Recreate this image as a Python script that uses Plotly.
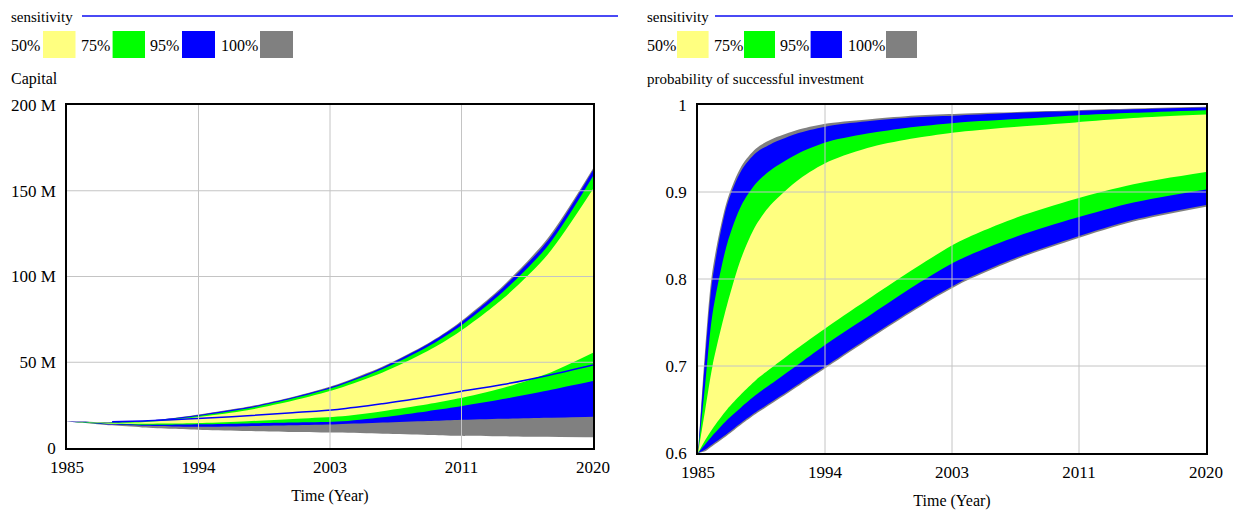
import plotly.graph_objects as go

W, H = 1233, 510

# ---- Capital (millions) sensitivity envelopes ----
cap_years = [1985, 1986, 1987, 1988, 1990, 1992, 1994, 1997, 2000, 2003, 2006, 2009, 2011, 2014, 2017, 2020]
cap_min   = [15.5, 14.7, 13.9, 13.2, 12.0, 11.2, 10.5, 9.9, 9.4, 9.0, 8.3, 7.6, 7.1, 6.8, 6.5, 6.2]
cap_q025  = [15.5, 14.8, 14.2, 13.7, 13.0, 12.6, 12.4, 12.7, 13.2, 13.8, 14.8, 15.7, 16.3, 17.0, 17.6, 18.2]
cap_q125  = [15.5, 14.9, 14.4, 14.0, 13.6, 13.6, 13.8, 14.3, 14.8, 15.4, 18.0, 21.5, 24.0, 28.5, 33.5, 39.0]
cap_q25   = [15.5, 15.0, 14.6, 14.3, 14.2, 14.3, 14.6, 15.6, 16.9, 18.3, 21.5, 25.5, 28.8, 35.0, 43.5, 55.6]
cap_q75   = [15.5, 15.1, 14.8, 14.6, 15.0, 16.3, 18.3, 22.0, 27.5, 34.5, 44.0, 56.5, 67.0, 87.0, 113.0, 151.0]
cap_q875  = [15.5, 15.2, 14.9, 14.8, 15.4, 16.9, 19.0, 23.0, 28.8, 36.0, 46.0, 59.0, 70.0, 91.0, 118.0, 158.5]
cap_q975  = [15.5, 15.3, 15.0, 14.9, 15.6, 17.3, 19.6, 23.7, 29.5, 36.8, 47.0, 60.5, 71.8, 93.5, 121.0, 162.0]
cap_max   = [15.6, 15.4, 15.1, 15.0, 15.7, 17.4, 19.8, 24.0, 29.8, 37.2, 47.5, 61.0, 72.5, 94.5, 122.5, 163.0]

# single run traced through the band
run_years = [1988, 1990, 1992, 1994, 1997, 2000, 2003, 2006, 2009, 2011, 2014, 2017, 2020]
run_cap   = [15.3, 15.8, 16.5, 17.3, 18.8, 20.6, 22.5, 25.8, 29.8, 32.7, 37.0, 42.3, 48.4]

# ---- probability of successful investment envelopes ----
p_years = [1985, 1985.5, 1986, 1987, 1988, 1989, 1990, 1992, 1994, 1997, 2000, 2003, 2007, 2011, 2015, 2020]
p_max   = [0.6, 0.72, 0.81, 0.89, 0.93, 0.95, 0.96, 0.972, 0.979, 0.984, 0.988, 0.990, 0.992, 0.994, 0.996, 0.998]
p_q975  = [0.6, 0.71, 0.80, 0.885, 0.925, 0.945, 0.955, 0.968, 0.976, 0.982, 0.986, 0.988, 0.991, 0.993, 0.995, 0.997]
p_q875  = [0.6, 0.68, 0.76, 0.84, 0.885, 0.91, 0.925, 0.945, 0.958, 0.968, 0.975, 0.980, 0.984, 0.988, 0.991, 0.994]
p_q75   = [0.6, 0.65, 0.70, 0.77, 0.825, 0.862, 0.885, 0.915, 0.935, 0.952, 0.962, 0.969, 0.975, 0.980, 0.985, 0.989]
p_q25   = [0.6, 0.615, 0.628, 0.65, 0.668, 0.684, 0.697, 0.722, 0.746, 0.780, 0.813, 0.843, 0.871, 0.892, 0.909, 0.923]
p_q125  = [0.6, 0.61, 0.62, 0.638, 0.653, 0.667, 0.679, 0.703, 0.727, 0.760, 0.793, 0.822, 0.849, 0.870, 0.888, 0.903]
p_q025  = [0.6, 0.604, 0.61, 0.622, 0.635, 0.647, 0.658, 0.680, 0.702, 0.735, 0.767, 0.796, 0.825, 0.848, 0.868, 0.885]
p_min   = [0.6, 0.602, 0.608, 0.620, 0.633, 0.645, 0.656, 0.678, 0.700, 0.733, 0.765, 0.794, 0.823, 0.846, 0.866, 0.883]

# ---- axes labels ----
time_ticks = [1985, 1993.75, 2002.5, 2011.25, 2020]
time_labels = ["1985", "1994", "2003", "2011", "2020"]
cap_ticks = [0, 50, 100, 150, 200]
cap_labels = ["0", "50 M", "100 M", "150 M", "200 M"]
p_ticks = [0.6, 0.7, 0.8, 0.9, 1.0]
p_labels = ["0.6", "0.7", "0.8", "0.9", "1"]

legend_labels = ["50%", "75%", "95%", "100%"]
legend_colors = ["#FFFF80", "#00FF00", "#0000FF", "#808080"]
YELLOW, GREEN, BLUE, GRAY = legend_colors

FONT = "Liberation Serif"


def px(x):
    return x / W


def py(y):
    return 1 - y / H


fig = go.Figure()


def band(x, lo, hi, color, xa, ya):
    fig.add_trace(go.Scatter(x=x, y=lo, mode="lines", xaxis=xa, yaxis=ya,
                             line=dict(width=0, shape="spline", smoothing=0.8),
                             hoverinfo="skip", showlegend=False))
    fig.add_trace(go.Scatter(x=x, y=hi, mode="lines", xaxis=xa, yaxis=ya,
                             line=dict(width=0, shape="spline", smoothing=0.8),
                             fill="tonexty", fillcolor=color,
                             hoverinfo="skip", showlegend=False))


# left panel: Capital
band(cap_years, cap_min, cap_max, GRAY, "x", "y")
band(cap_years, cap_q025, cap_q975, BLUE, "x", "y")
band(cap_years, cap_q125, cap_q875, GREEN, "x", "y")
band(cap_years, cap_q25, cap_q75, YELLOW, "x", "y")
fig.add_trace(go.Scatter(x=run_years, y=run_cap, mode="lines", xaxis="x", yaxis="y",
                         line=dict(color="#0000FF", width=1.5, shape="spline"),
                         hoverinfo="skip", showlegend=False))

# right panel: probability
band(p_years, p_min, p_max, GRAY, "x2", "y2")
band(p_years, p_q025, p_q975, BLUE, "x2", "y2")
band(p_years, p_q125, p_q875, GREEN, "x2", "y2")
band(p_years, p_q25, p_q75, YELLOW, "x2", "y2")

axis_common = dict(showline=True, mirror=True, linecolor="black", linewidth=1.5,
                   showgrid=False, zeroline=False, ticks="", automargin=False,
                   tickfont=dict(family=FONT, size=17, color="black"))
xtitle = dict(text="Time (Year)", font=dict(family=FONT, size=16, color="black"), standoff=14)

fig.update_layout(
    width=W, height=H, margin=dict(l=0, r=0, t=0, b=0, autoexpand=False),
    paper_bgcolor="white", plot_bgcolor="white", showlegend=False,
    xaxis=dict(domain=[px(67), px(593)], range=[1985, 2020], anchor="y",
               tickvals=time_ticks, ticktext=time_labels, ticklabelstandoff=3,
               title=xtitle, **axis_common),
    yaxis=dict(domain=[py(448), py(105)], range=[0, 200], anchor="x",
               tickvals=cap_ticks, ticktext=cap_labels, ticklabelstandoff=6,
               **axis_common),
    xaxis2=dict(domain=[px(698), px(1206)], range=[1985, 2020], anchor="y2",
                tickvals=time_ticks, ticktext=time_labels, ticklabelstandoff=3,
                title=xtitle, **axis_common),
    yaxis2=dict(domain=[py(453), py(105)], range=[0.6, 1.0], anchor="x2",
                tickvals=p_ticks, ticktext=p_labels, ticklabelstandoff=6,
                **axis_common),
)

shapes = []
annotations = []

# grid drawn over the bands
for xa, ya, yt in (("x", "y", cap_ticks), ("x2", "y2", p_ticks)):
    for t in time_ticks[1:-1]:
        shapes.append(dict(type="line", xref=xa, yref=ya + " domain", x0=t, x1=t, y0=0, y1=1,
                           line=dict(color="#c4c4c4", width=1), layer="above"))
    for v in yt[1:-1]:
        shapes.append(dict(type="line", xref=xa + " domain", yref=ya, x0=0, x1=1, y0=v, y1=v,
                           line=dict(color="#c4c4c4", width=1), layer="above"))

# header: "sensitivity" with rule, legend swatches, panel title
panels = [
    dict(x0=9, rule=(82, 618), text_x=[9, 79, 148, 219], box_x=[(43, 75.5), (112.6, 145), (182, 215), (260, 293)],
         title="Capital", title_x=9, title_size=16),
    dict(x0=645, rule=(715, 1233), text_x=[645, 712, 778, 846], box_x=[(677, 708.6), (744, 775), (810.6, 842), (886, 917)],
         title="probability of successful investment", title_x=645, title_size=15),
]
for p in panels:
    annotations.append(dict(text="sensitivity", x=px(p["x0"]), y=py(17), xref="paper", yref="paper",
                            xanchor="left", yanchor="middle", showarrow=False,
                            font=dict(family=FONT, size=15, color="black")))
    shapes.append(dict(type="line", xref="paper", yref="paper", x0=px(p["rule"][0]), x1=px(p["rule"][1]),
                       y0=py(16), y1=py(16), line=dict(color="#4a4af5", width=2)))
    for lab, tx, (b0, b1), col in zip(legend_labels, p["text_x"], p["box_x"], legend_colors):
        annotations.append(dict(text=lab, x=px(tx), y=py(45), xref="paper", yref="paper",
                                xanchor="left", yanchor="middle", showarrow=False,
                                font=dict(family=FONT, size=16, color="black")))
        shapes.append(dict(type="rect", xref="paper", yref="paper", x0=px(b0), x1=px(b1),
                           y0=py(58), y1=py(31), fillcolor=col, line=dict(width=0)))
    annotations.append(dict(text=p["title"], x=px(p["title_x"]), y=py(79), xref="paper", yref="paper",
                            xanchor="left", yanchor="middle", showarrow=False,
                            font=dict(family=FONT, size=p["title_size"], color="black")))

fig.update_layout(shapes=shapes, annotations=annotations)
fig.write_html("out.html")
